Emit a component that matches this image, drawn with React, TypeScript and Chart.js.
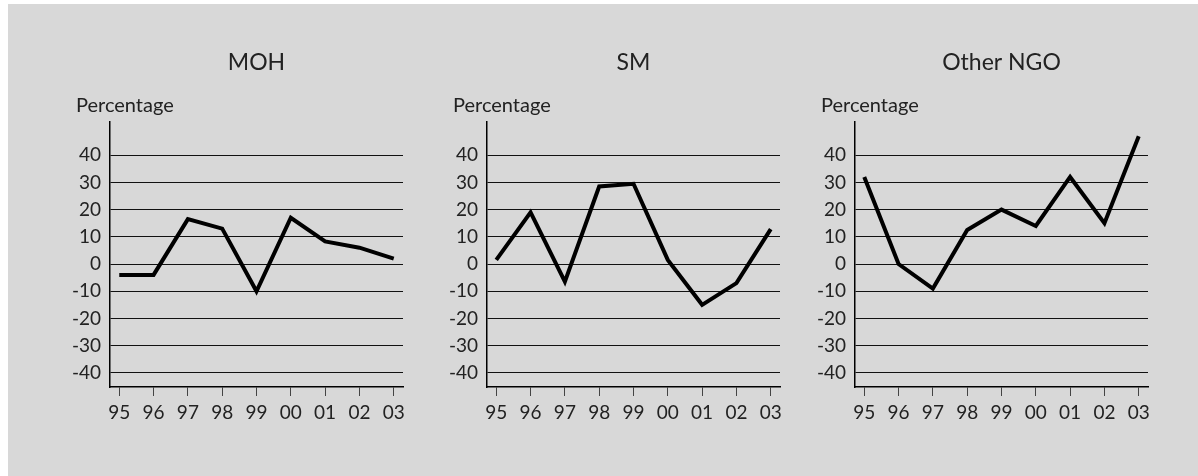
import React, { useEffect, useRef } from "react";
import { Chart, registerables } from "chart.js";

Chart.register(...registerables);

const yearLabels = ["95", "96", "97", "98", "99", "00", "01", "02", "03"];
const yTickValues = [-40, -30, -20, -10, 0, 10, 20, 30, 40];
const mohValues = [-4, -4, 16.5, 13, -10, 17, 8.3, 6, 2];
const smValues = [1.5, 19, -6.5, 28.5, 29.5, 1.5, -15, -7, 12.8];
const ngoValues = [32, 0, -9, 12.5, 20, 14, 32, 15, 47];
const panelTitles = ["MOH", "SM", "Other NGO"];
const yAxisTitle = "Percentage";

const FONT = "Lato, 'Open Sans', sans-serif";
const TEXT = "#222";

const panels = [
  { title: panelTitles[0], values: mohValues, left: 42 },
  { title: panelTitles[1], values: smValues, left: 419 },
  { title: panelTitles[2], values: ngoValues, left: 787 },
];

const W = 370;
const H = 472;

const textPlugin = {
  id: "panelText",
  afterDraw(chart: any, _args: any, opts: any) {
    const { ctx, chartArea } = chart;
    ctx.save();
    ctx.fillStyle = TEXT;
    ctx.textBaseline = "middle";
    ctx.font = `23px ${FONT}`;
    ctx.textAlign = "center";
    ctx.fillText(opts.title, (chartArea.left + chartArea.right) / 2, 59);
    ctx.font = `20px ${FONT}`;
    ctx.textAlign = "left";
    ctx.fillText(yAxisTitle, chartArea.left - 34, 102);
    ctx.restore();
  },
};

function Panel({ title, values, left }: { title: string; values: number[]; left: number }) {
  const ref = useRef<HTMLCanvasElement>(null);
  useEffect(() => {
    if (!ref.current) return;
    const chart = new Chart(ref.current, {
      type: "line",
      data: {
        datasets: [
          {
            data: values.map((v, i) => ({ x: i, y: v })),
            borderColor: "#000",
            borderWidth: 4,
            pointRadius: 0,
            tension: 0,
            borderJoinStyle: "miter",
            borderCapStyle: "butt",
            clip: false as any,
          },
        ],
      },
      options: {
        animation: false,
        responsive: false,
        devicePixelRatio: 1,
        layout: { padding: { top: 118, bottom: 49, left: 10, right: 17 } },
        plugins: {
          legend: { display: false },
          tooltip: { enabled: false },
          panelText: { title },
        } as any,
        scales: {
          x: {
            type: "linear",
            min: -0.27,
            max: 8.27,
            afterBuildTicks: (s: any) => {
              s.ticks = yearLabels.map((_, i) => ({ value: i }));
            },
            afterFit: (s: any) => {
              s.height = 40;
            },
            grid: { drawOnChartArea: false, drawTicks: true, tickLength: 9, color: "#444", lineWidth: 1 },
            border: { display: true, color: "#000", width: 1.5 },
            ticks: {
              color: TEXT,
              font: { family: FONT, size: 19 },
              padding: 5,
              maxRotation: 0,
              autoSkip: false,
              callback: (v: any) => yearLabels[v as number] ?? "",
            },
          },
          y: {
            type: "linear",
            min: -45.2,
            max: 52.2,
            afterBuildTicks: (s: any) => {
              s.ticks = yTickValues.map((v) => ({ value: v }));
            },
            afterFit: (s: any) => {
              s.width = 50;
            },
            grid: { drawTicks: false, color: "#111", lineWidth: 1 },
            border: { display: true, color: "#000", width: 1.5 },
            ticks: {
              color: TEXT,
              font: { family: FONT, size: 19 },
              padding: 9,
              autoSkip: false,
            },
          },
        },
      },
      plugins: [textPlugin],
    } as any);
    return () => chart.destroy();
  }, [title, values]);
  return (
    <canvas
      ref={ref}
      width={W}
      height={H}
      style={{ position: "absolute", left, top: 0, width: W, height: H }}
    />
  );
}

export default function App() {
  return (
    <div
      style={{
        position: "absolute",
        left: 8,
        top: 4,
        width: 1190,
        height: 472,
        background: "#d8d8d8",
        overflow: "hidden",
      }}
    >
      {panels.map((p) => (
        <Panel key={p.title} title={p.title} values={p.values} left={p.left} />
      ))}
    </div>
  );
}
